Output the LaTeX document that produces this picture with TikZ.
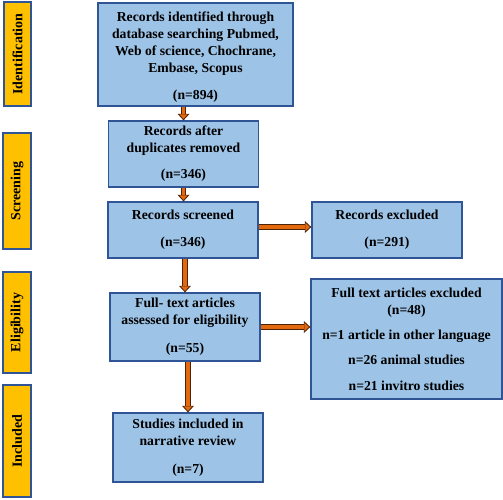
\documentclass[tikz,border=0pt]{standalone}
\usepackage{fontspec}
\setmainfont{Liberation Serif}
\usetikzlibrary{arrows.meta}
\definecolor{boxfill}{HTML}{9DC3E6}
\definecolor{boxline}{HTML}{2F5597}
\definecolor{gold}{HTML}{FFC000}
\definecolor{arrorange}{HTML}{E2690E}
\definecolor{arrdark}{HTML}{4A2308}
\begin{document}
\begin{tikzpicture}[x=1pt,y=-1pt,
  box/.style={draw=boxline, line width=1.3pt, fill=boxfill, align=center,
    font=\fontsize{13.7}{17}\selectfont\bfseries, inner sep=0pt},
  side/.style={draw=boxline, line width=1.3pt, fill=gold, rotate=90,
    font=\fontsize{14}{16}\selectfont\bfseries, inner sep=0pt},
  arr/.style={line width=5.5pt, draw=arrdark,
    -{Triangle[length=6.5pt,width=12pt,line width=0pt]},
    postaction={draw=arrorange, line width=3.5pt,
      -{Triangle[length=4.5pt,width=8pt,line width=0pt]}, shorten >=1.4pt}}]
\useasboundingbox (0,0) rectangle (503,499);

% side labels
\node[side, minimum width=104pt, minimum height=27pt] (sid) at (17.5,54) {Identification};
\node[side, minimum width=116pt, minimum height=28pt] (ssc) at (17,191) {Screening};
\node[side, minimum width=101pt, minimum height=28pt] (sel) at (17,322.5) {Eligibility};
\node[side, minimum width=112pt, minimum height=28pt] (sin) at (17,441) {Included};

% boxes
\node[box, minimum width=195pt, minimum height=103pt] (b1) at (195.5,54.5)
  {\rule{0pt}{14pt}Records identified through\\database searching Pubmed,\\Web of science, Chochrane,\\Embase, Scopus\\[10pt](n=894)};
\node[box, minimum width=150pt, minimum height=66pt] (b2) at (183.5,154)
  {Records after\\duplicates removed\\[9pt](n=346)};
\node[box, minimum width=150pt, minimum height=56pt] (b3) at (183,230)
  {Records screened\\[10pt](n=346)};
\node[box, minimum width=150pt, minimum height=56pt] (ex1) at (387,230)
  {Records excluded\\[10pt](n=291)};
\node[box, minimum width=150pt, minimum height=68pt] (b4) at (185,327)
  {Full- text articles\\assessed for eligibility\\[11pt](n=55)};
\node[box, minimum width=191pt, minimum height=120pt] (ex2) at (406.5,339)
  {Full text articles excluded\\(n=48)\\[8pt]n=1 article in other language\\[8pt]n=26 animal studies\\[9pt]n=21 invitro studies};
\node[box, minimum width=150pt, minimum height=69pt] (b5) at (188,447.5)
  {Studies included in\\narrative review\\[11pt](n=7)};

% arrows
\draw[arr] (b2.north |- b1.south) -- (b2.north);
\draw[arr] (b2.south) -- (b2.south |- b3.north);
\draw[arr] (b4.north |- b3.south) -- (b4.north);
\draw[arr] (b4.south -| b5.north) -- (b5.north);
\draw[arr] ([yshift=3pt]b3.east) -- ([yshift=3pt]ex1.west);
\draw[arr] (b4.east) -- (ex2.west |- b4.east);
\end{tikzpicture}
\end{document}
